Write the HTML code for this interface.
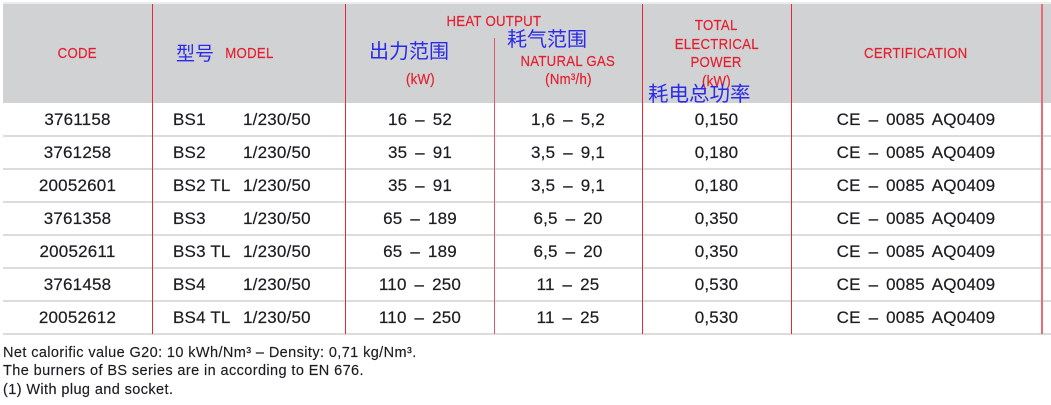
<!DOCTYPE html>
<html>
<head>
<meta charset="utf-8">
<style>
html,body{margin:0;padding:0;background:#fff;}
body{width:1051px;height:405px;position:relative;overflow:hidden;font-family:"Liberation Sans","Noto Sans CJK SC",sans-serif;}
.a{position:absolute;white-space:nowrap;}
.hd{position:absolute;left:3px;top:4px;width:1048px;height:99px;background:#d1d2d4;}
.topl{position:absolute;left:3px;top:2px;width:1048px;height:2px;background:#ececec;}
.vl{position:absolute;top:4px;height:330px;width:1px;background:#e3283a;}
.hl{position:absolute;left:3px;width:1048px;height:2px;background:#dcdcdc;}
.r{color:#e41e2e;font-size:15px;letter-spacing:0.3px;line-height:20px;text-align:center;-webkit-text-stroke:0.2px #e41e2e;}
.r span{display:inline-block;transform:scaleX(0.88);}
.b{color:#2a2ae8;font-size:20px;line-height:24px;}
.d{color:#1c1c22;font-size:17px;letter-spacing:0.2px;word-spacing:3px;line-height:20px;text-align:center;-webkit-text-stroke:0.2px #1c1c22;}
.f{color:#1c1c22;font-size:14.5px;letter-spacing:0.4px;line-height:18px;left:3px;-webkit-text-stroke:0.15px #1c1c22;}
</style>
</head>
<body>
<div class="topl"></div>
<div class="hd"></div>

<!-- row separators -->
<div class="hl" style="top:135px"></div>
<div class="hl" style="top:168px"></div>
<div class="hl" style="top:201px"></div>
<div class="hl" style="top:234px"></div>
<div class="hl" style="top:267px"></div>
<div class="hl" style="top:300px"></div>
<div class="hl" style="top:333px"></div>

<!-- vertical lines -->
<div class="vl" style="left:152px"></div>
<div class="vl" style="left:345px"></div>
<div class="vl" style="left:494px;top:38px;height:296px;background:#e25566;"></div>
<div class="vl" style="left:642px"></div>
<div class="vl" style="left:791px"></div>
<div class="vl" style="left:1041px;width:2px;background:#e66c78;"></div>

<!-- header -->
<div class="a r" style="left:3px;width:149px;top:44px;"><span>CODE</span></div>
<div class="a b" style="left:176px;top:43px;font-size:19px;">型号</div>
<div class="a r" style="left:196px;width:106px;top:44px;"><span>MODEL</span></div>

<div class="a r" style="left:394px;width:200px;top:12px;"><span>HEAT OUTPUT</span></div>
<div class="a b" style="left:369px;top:40px;">出力范围</div>
<div class="a r" style="left:346px;width:148px;top:70px;"><span>(kW)</span></div>
<div class="a b" style="left:507px;top:28px;">耗气范围</div>
<div class="a r" style="left:494px;width:148px;top:52px;"><span>NATURAL GAS</span></div>
<div class="a r" style="left:494px;width:148px;top:70px;"><span>(Nm³/h)</span></div>

<div class="a r" style="left:642px;width:149px;top:16px;"><span>TOTAL</span></div>
<div class="a r" style="left:642px;width:149px;top:35px;"><span>ELECTRICAL</span></div>
<div class="a r" style="left:642px;width:149px;top:53px;"><span>POWER</span></div>
<div class="a r" style="left:642px;width:149px;top:72px;"><span>(kW)</span></div>
<div class="a b" style="left:648px;top:83px;font-size:20.5px;">耗电总功率</div>

<div class="a r" style="left:791px;width:250px;top:44px;"><span>CERTIFICATION</span></div>

<!-- data rows -->
<div class="a d" style="left:3px;width:149px;top:110px;">3761158</div>
<div class="a d" style="left:173px;top:110px;text-align:left;">BS1</div>
<div class="a d" style="left:243px;top:110px;text-align:left;">1/230/50</div>
<div class="a d" style="left:346px;width:148px;top:110px;">16 – 52</div>
<div class="a d" style="left:494px;width:148px;top:110px;">1,6 – 5,2</div>
<div class="a d" style="left:642px;width:149px;top:110px;">0,150</div>
<div class="a d" style="left:791px;width:250px;top:110px;">CE – 0085 AQ0409</div>

<div class="a d" style="left:3px;width:149px;top:143px;">3761258</div>
<div class="a d" style="left:173px;top:143px;text-align:left;">BS2</div>
<div class="a d" style="left:243px;top:143px;text-align:left;">1/230/50</div>
<div class="a d" style="left:346px;width:148px;top:143px;">35 – 91</div>
<div class="a d" style="left:494px;width:148px;top:143px;">3,5 – 9,1</div>
<div class="a d" style="left:642px;width:149px;top:143px;">0,180</div>
<div class="a d" style="left:791px;width:250px;top:143px;">CE – 0085 AQ0409</div>

<div class="a d" style="left:3px;width:149px;top:176px;">20052601</div>
<div class="a d" style="left:173px;top:176px;text-align:left;word-spacing:0;">BS2 TL</div>
<div class="a d" style="left:243px;top:176px;text-align:left;">1/230/50</div>
<div class="a d" style="left:346px;width:148px;top:176px;">35 – 91</div>
<div class="a d" style="left:494px;width:148px;top:176px;">3,5 – 9,1</div>
<div class="a d" style="left:642px;width:149px;top:176px;">0,180</div>
<div class="a d" style="left:791px;width:250px;top:176px;">CE – 0085 AQ0409</div>

<div class="a d" style="left:3px;width:149px;top:209px;">3761358</div>
<div class="a d" style="left:173px;top:209px;text-align:left;">BS3</div>
<div class="a d" style="left:243px;top:209px;text-align:left;">1/230/50</div>
<div class="a d" style="left:346px;width:148px;top:209px;">65 – 189</div>
<div class="a d" style="left:494px;width:148px;top:209px;">6,5 – 20</div>
<div class="a d" style="left:642px;width:149px;top:209px;">0,350</div>
<div class="a d" style="left:791px;width:250px;top:209px;">CE – 0085 AQ0409</div>

<div class="a d" style="left:3px;width:149px;top:242px;">20052611</div>
<div class="a d" style="left:173px;top:242px;text-align:left;word-spacing:0;">BS3 TL</div>
<div class="a d" style="left:243px;top:242px;text-align:left;">1/230/50</div>
<div class="a d" style="left:346px;width:148px;top:242px;">65 – 189</div>
<div class="a d" style="left:494px;width:148px;top:242px;">6,5 – 20</div>
<div class="a d" style="left:642px;width:149px;top:242px;">0,350</div>
<div class="a d" style="left:791px;width:250px;top:242px;">CE – 0085 AQ0409</div>

<div class="a d" style="left:3px;width:149px;top:275px;">3761458</div>
<div class="a d" style="left:173px;top:275px;text-align:left;">BS4</div>
<div class="a d" style="left:243px;top:275px;text-align:left;">1/230/50</div>
<div class="a d" style="left:346px;width:148px;top:275px;">110 – 250</div>
<div class="a d" style="left:494px;width:148px;top:275px;">11 – 25</div>
<div class="a d" style="left:642px;width:149px;top:275px;">0,530</div>
<div class="a d" style="left:791px;width:250px;top:275px;">CE – 0085 AQ0409</div>

<div class="a d" style="left:3px;width:149px;top:308px;">20052612</div>
<div class="a d" style="left:173px;top:308px;text-align:left;word-spacing:0;">BS4 TL</div>
<div class="a d" style="left:243px;top:308px;text-align:left;">1/230/50</div>
<div class="a d" style="left:346px;width:148px;top:308px;">110 – 250</div>
<div class="a d" style="left:494px;width:148px;top:308px;">11 – 25</div>
<div class="a d" style="left:642px;width:149px;top:308px;">0,530</div>
<div class="a d" style="left:791px;width:250px;top:308px;">CE – 0085 AQ0409</div>

<!-- footnotes -->
<div class="a f" style="top:344px;">Net calorific value G20: 10 kWh/Nm³ – Density: 0,71 kg/Nm³.</div>
<div class="a f" style="top:362px;">The burners of BS series are in according to EN 676.</div>
<div class="a f" style="top:381px;">(1) With plug and socket.</div>
</body>
</html>
